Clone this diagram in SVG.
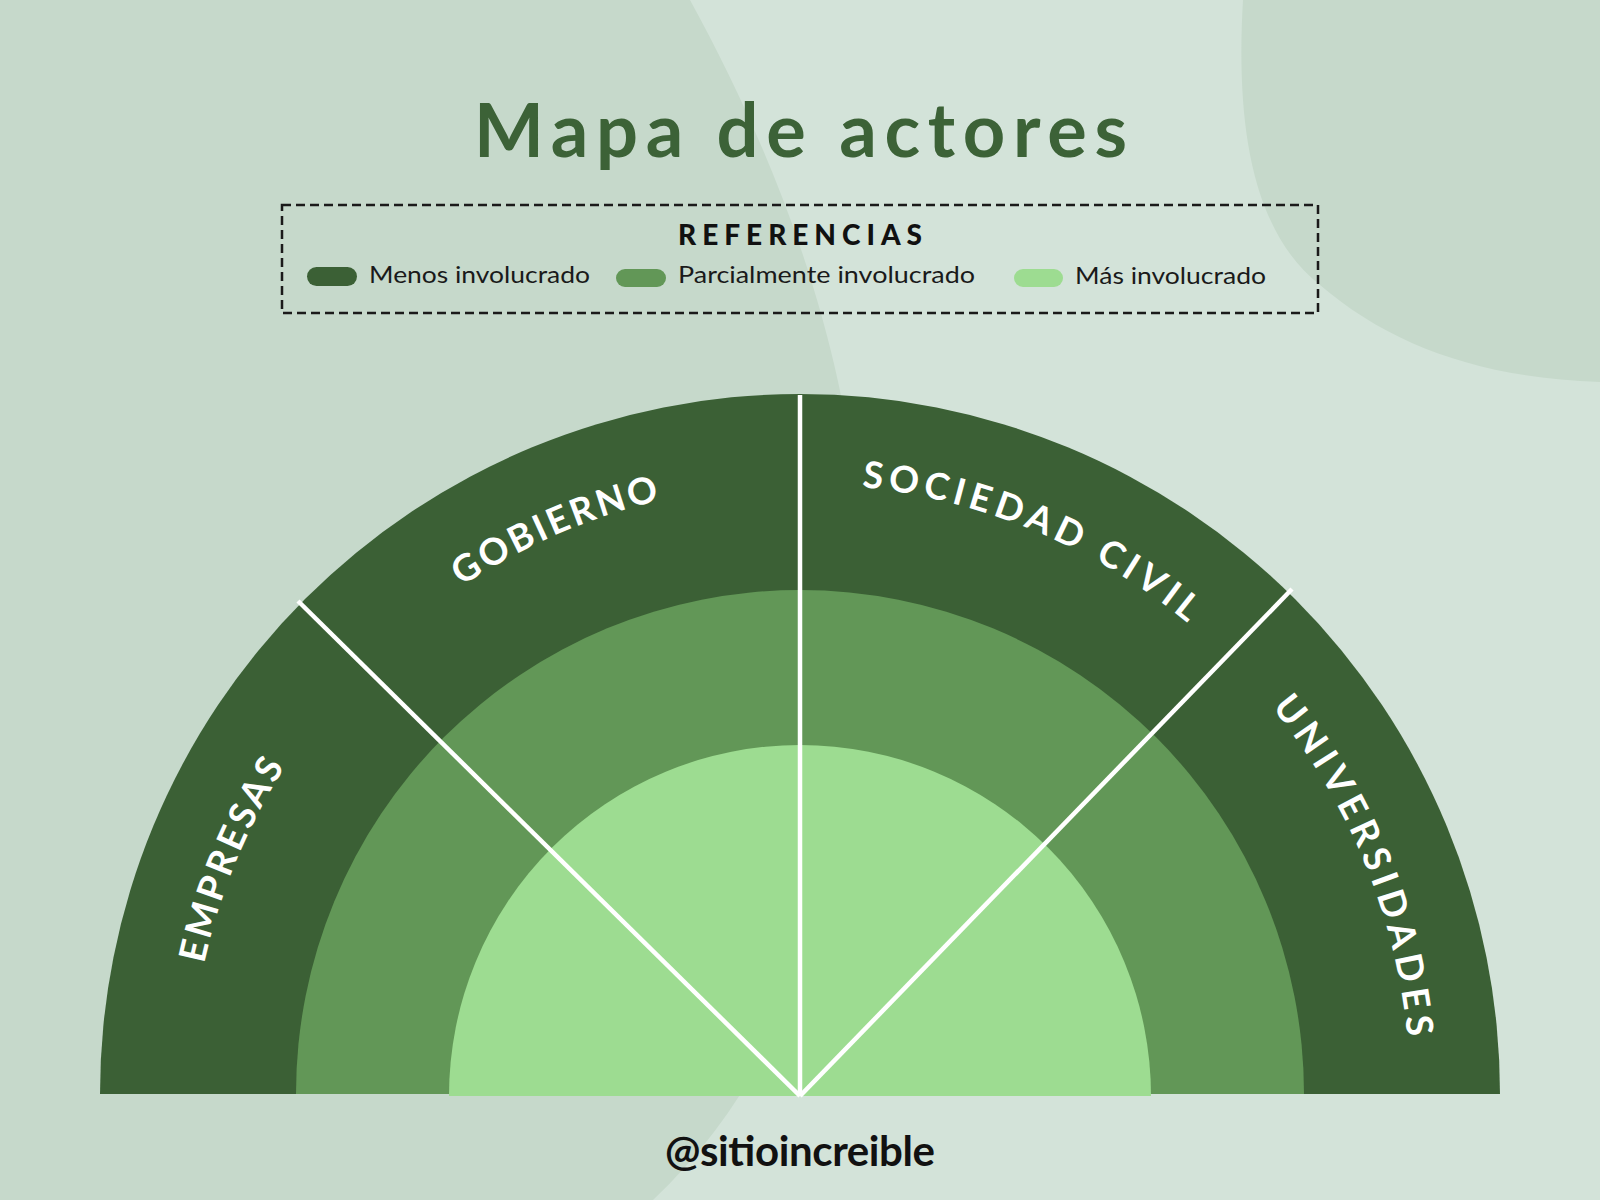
<svg xmlns="http://www.w3.org/2000/svg" xmlns:xlink="http://www.w3.org/1999/xlink" width="1600" height="1200" viewBox="0 0 1600 1200">
  <defs>
    <style>
      .dark { fill: #3b6035; }
      .mid { fill: #629757; }
      .light { fill: #9ddc91; }
      .label { font-family: Lato, "Noto Sans", sans-serif; font-weight: bold; font-size: 37px; fill: #ffffff; }
      .leg { font-family: Lato, "Noto Sans", sans-serif; font-size: 23px; fill: #1a1a1a; }
      .divider { stroke: #ffffff; stroke-width: 4.5; fill: none; }
    </style>
    <path id="arc" d="M 190 1094 A 610 610 0 0 1 1410 1094"/>
  </defs>

  <!-- background -->
  <rect x="0" y="0" width="1600" height="1200" fill="#d3e3d9"/>
  <path d="M 0 0 L 690 0 C 800 200 870 420 860 620 C 855 880 790 1070 653 1200 L 0 1200 Z" fill="#c6d9cb"/>
  <path d="M 1243 0 C 1236 120 1250 230 1320 285 C 1390 345 1480 378 1600 382 L 1600 0 Z" fill="#c6d9cb"/>

  <!-- title -->
  <g id="title">
    <text x="800.5" y="157" text-anchor="middle" textLength="653" lengthAdjust="spacing" font-family="Lato, 'Noto Sans', sans-serif" font-weight="bold" font-size="74" fill="#3c6237">Mapa de actores</text>
  </g>

  <!-- legend -->
  <g id="legend">
    <rect x="282" y="205" width="1036" height="108" fill="none" stroke="#1a1a1a" stroke-width="2.5" stroke-dasharray="9 5"/>
    <text x="800" y="245" text-anchor="middle" textLength="244" lengthAdjust="spacing" font-family="Lato, 'Noto Sans', sans-serif" font-weight="900" font-size="28" fill="#111111">REFERENCIAS</text>
    <g id="legend-less">
      <rect class="dark" x="307" y="267" width="50" height="19" rx="9.5"/>
      <text class="leg" x="369" y="283" textLength="221" lengthAdjust="spacingAndGlyphs">Menos involucrado</text>
    </g>
    <g id="legend-partial">
      <rect class="mid" x="616" y="269" width="50" height="18" rx="9"/>
      <text class="leg" x="678" y="283" textLength="297" lengthAdjust="spacingAndGlyphs">Parcialmente involucrado</text>
    </g>
    <g id="legend-more">
      <rect class="light" x="1014" y="269" width="49" height="18" rx="9"/>
      <text class="leg" x="1075" y="284" textLength="191" lengthAdjust="spacingAndGlyphs">Más involucrado</text>
    </g>
  </g>

  <!-- rings -->
  <g id="ring-outer">
    <path class="dark" d="M 100 1094 A 700 700 0 0 1 1500 1094 Z"/>
  </g>
  <g id="ring-middle">
    <path class="mid" d="M 296 1094 A 504 504 0 0 1 1304 1094 Z"/>
  </g>
  <g id="ring-inner">
    <path class="light" d="M 449 1096 A 351 351 0 0 1 1151 1096 Z"/>
  </g>

  <!-- dividers -->
  <g id="connectors">
    <line class="divider" x1="800" y1="1096" x2="298" y2="601"/>
    <line class="divider" x1="800" y1="1096" x2="800" y2="395"/>
    <line class="divider" x1="800" y1="1096" x2="1292" y2="589"/>
  </g>

  <!-- sector labels -->
  <g id="empresas">
    <text class="label" text-anchor="middle"><textPath xlink:href="#arc" href="#arc" startOffset="238" textLength="214" lengthAdjust="spacing">EMPRESAS</textPath></text>
  </g>
  <g id="gobierno">
    <text class="label" text-anchor="middle"><textPath xlink:href="#arc" href="#arc" startOffset="708" textLength="217" lengthAdjust="spacing">GOBIERNO</textPath></text>
  </g>
  <g id="sociedad-civil">
    <text class="label" text-anchor="middle"><textPath xlink:href="#arc" href="#arc" startOffset="1199" textLength="358" lengthAdjust="spacing">SOCIEDAD CIVIL</textPath></text>
  </g>
  <g id="universidades">
    <text class="label" text-anchor="middle"><textPath xlink:href="#arc" href="#arc" startOffset="1678" textLength="362" lengthAdjust="spacing">UNIVERSIDADES</textPath></text>
  </g>

  <!-- footer -->
  <g id="footer">
    <text x="800" y="1166" text-anchor="middle" textLength="270" lengthAdjust="spacing" font-family="Lato, 'Noto Sans', sans-serif" font-weight="bold" font-size="42" fill="#111111">@sitioincreible</text>
  </g>
</svg>
